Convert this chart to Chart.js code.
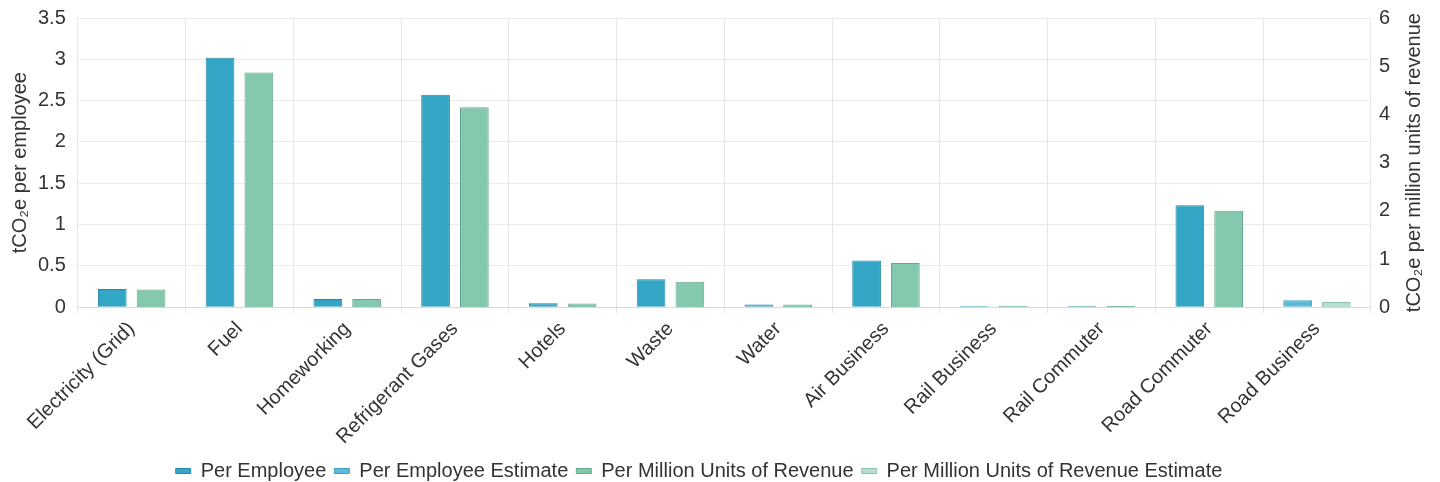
<!DOCTYPE html>
<html>
<head>
<meta charset="utf-8">
<script src="https://cdn.jsdelivr.net/npm/chart.js@4"></script>
<style>
  html, body { margin: 0; padding: 0; background: #fff; }
  #wrap { width: 1440px; height: 482px; }
</style>
</head>
<body>
<div id="wrap"><canvas id="chart"></canvas></div>
<script>
const categories = ['Electricity (Grid)', 'Fuel', 'Homeworking', 'Refrigerant Gases', 'Hotels', 'Waste',
    'Water', 'Air Business', 'Rail Business', 'Rail Commuter', 'Road Commuter', 'Road Business'];

const perEmployee = [0.22, 3.02, 0.1, 2.57, 0.048, 0.34, 0.033, 0.565, 0.016, 0.014, 1.235, null];
const perEmployeeEstimate = [null, null, null, null, null, null, null, null, null, null, null, 0.085];
const perRevenue = [0.37, 4.87, 0.17, 4.15, 0.08, 0.53, 0.056, 0.92, 0.027, 0.024, 2.0, null];
const perRevenueEstimate = [null, null, null, null, null, null, null, null, null, null, null, 0.11];

const leftTitle = 'tCO₂e per employee';
const rightTitle = 'tCO₂e per million units of revenue';

const fonte = '"Liberation Sans", Arial, sans-serif';
const corTexto = '#333333';

function serie(label, data, eixo, pilha, cor, borda) {
    return {
        label: label,
        data: data,
        yAxisID: eixo,
        stack: pilha,
        backgroundColor: cor,
        borderColor: borda,
        borderWidth: 1,
        categoryPercentage: 0.72,
        barPercentage: 0.74
    };
}

// titulo do eixo direito lido de baixo para cima, como o da esquerda
const tituloDireito = {
    id: 'tituloDireito',
    afterDraw(chart) {
        const ctx = chart.ctx;
        const area = chart.chartArea;
        ctx.save();
        ctx.translate(chart.width - 26, (area.top + area.bottom) / 2);
        ctx.rotate(-Math.PI / 2);
        ctx.fillStyle = corTexto;
        ctx.font = '20px ' + fonte;
        ctx.textAlign = 'center';
        ctx.textBaseline = 'middle';
        ctx.fillText(rightTitle, 0, 0);
        ctx.restore();
    }
};

function semZeros(v) {
    return String(Number(v.toFixed(2)));
}

new Chart(document.getElementById('chart'), {
    type: 'bar',
    data: {
        labels: categories,
        datasets: [
            serie('Per Employee', perEmployee, 'y', 'emp', '#33a5c5', '#2688a6'),
            serie('Per Employee Estimate', perEmployeeEstimate, 'y', 'emp', '#5cb9d7', '#3e9fbf'),
            serie('Per Million Units of Revenue', perRevenue, 'y1', 'rev', '#84c8ae', '#67a78e'),
            serie('Per Million Units of Revenue Estimate', perRevenueEstimate, 'y1', 'rev', '#b5e0cf', '#90c3ae')
        ]
    },
    plugins: [tituloDireito],
    options: {
        responsive: true,
        maintainAspectRatio: false,
        animation: false,
        layout: { padding: { top: 5, left: 8, right: 50, bottom: -9 } },
        plugins: {
            legend: {
                position: 'bottom',
                labels: {
                    color: corTexto,
                    font: { family: fonte, size: 20 },
                    boxWidth: 15,
                    boxHeight: 5,
                    padding: 8
                }
            },
            tooltip: { enabled: false }
        },
        scales: {
            x: {
                stacked: true,
                grid: { offset: true, color: '#e6e6e6', tickLength: 6 },
                border: { color: '#d9d9d9' },
                ticks: {
                    color: corTexto,
                    padding: 4,
                    font: { family: fonte, size: 20 },
                    maxRotation: 45,
                    minRotation: 45
                }
            },
            y: {
                stacked: true,
                position: 'left',
                min: 0,
                max: 3.5,
                ticks: { stepSize: 0.5, padding: 6, color: corTexto, font: { family: fonte, size: 20 }, callback: semZeros },
                grid: { color: '#ebebeb', drawTicks: true, tickLength: 6, tickColor: 'rgba(0,0,0,0)' },
                border: { display: false },
                title: {
                    display: true,
                    text: leftTitle,
                    color: corTexto,
                    padding: 0,
                    font: { family: fonte, size: 20 }
                }
            },
            y1: {
                stacked: true,
                position: 'right',
                min: 0,
                max: 6,
                ticks: { stepSize: 1, padding: 0, color: corTexto, font: { family: fonte, size: 20 }, callback: semZeros },
                grid: { display: false },
                border: { display: false }
            }
        }
    }
});
</script>
</body>
</html>
